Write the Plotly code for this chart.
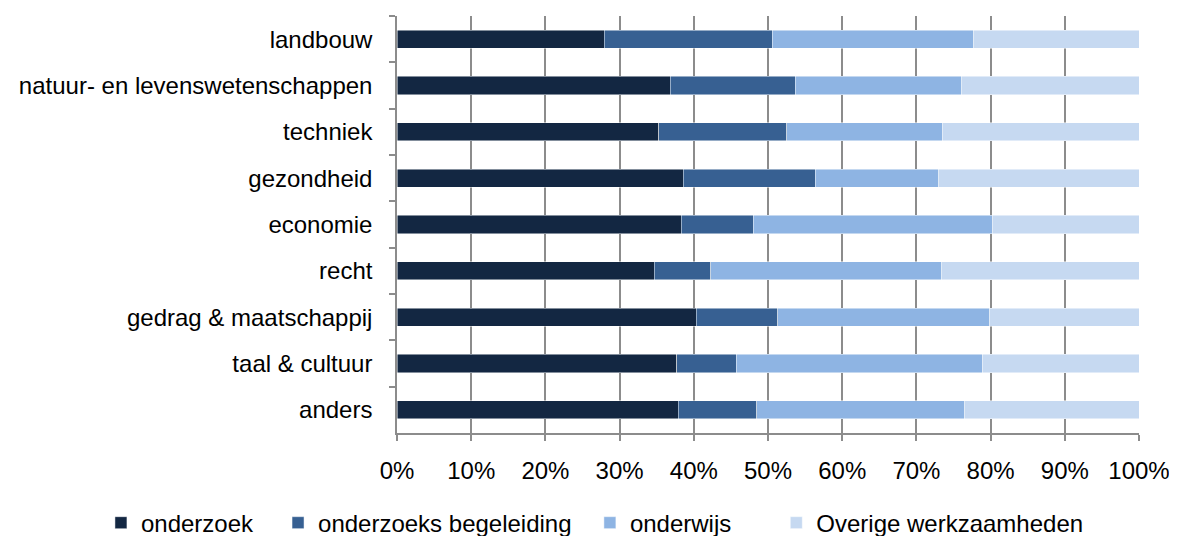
import plotly.graph_objects as go

# Categorieën (van boven naar beneden)
categories = ["landbouw", "natuur- en levenswetenschappen", "techniek", "gezondheid",
              "economie", "recht", "gedrag & maatschappij", "taal & cultuur", "anders"]

# Aandelen per activiteit (%)
onderzoek = [27.9, 36.8, 35.3, 38.6, 38.3, 34.7, 40.3, 37.7, 37.9]
begeleiding = [22.7, 16.9, 17.2, 17.8, 9.7, 7.6, 11.0, 8.0, 10.6]
onderwijs = [27.1, 22.4, 21.0, 16.6, 32.2, 31.1, 28.6, 33.2, 28.0]
overige = [22.3, 23.9, 26.5, 27.0, 19.8, 26.6, 20.1, 21.1, 23.5]

x_ticks = list(range(0, 101, 10))
x_labels = [f"{v}%" for v in x_ticks]

# nbsp achter de namen voor de ruimte tussen legenda-items
nb = "\u00a0"
series = [
    ("onderzoek" + nb * 3, onderzoek, "#132742"),
    ("onderzoeks begeleiding" + nb * 2, begeleiding, "#376092"),
    ("onderwijs" + nb * 6, onderwijs, "#8EB4E3"),
    ("Overige werkzaamheden", overige, "#C6D9F1"),
]

fig = go.Figure()

# Gestapelde horizontale balken
for name, values, color in series:
    fig.add_trace(go.Bar(
        y=categories,
        x=values,
        name=name,
        orientation="h",
        marker=dict(color=color, line=dict(color="rgba(255,255,255,0.6)", width=0.8)),
    ))

# De pagina heeft 8px body-marge, daarom marges 8px kleiner links/boven
fig.update_layout(
    barmode="stack",
    bargap=0.61,
    width=1177,
    height=536,
    margin=dict(l=389, r=46, t=8, b=111, autoexpand=False),
    plot_bgcolor="white",
    paper_bgcolor="white",
    font=dict(family="Liberation Sans", size=24, color="#000000"),
    showlegend=True,
    legend=dict(
        orientation="h",
        x=-0.399, xanchor="left",
        y=-0.216, yanchor="middle",
        font=dict(size=24),
        traceorder="normal",
        bgcolor="rgba(0,0,0,0)",
    ),
    xaxis=dict(
        range=[0, 100],
        tickvals=x_ticks,
        ticktext=x_labels,
        showgrid=True,
        gridcolor="#8C8C8C",
        gridwidth=1.5,
        showline=True,
        linecolor="#8C8C8C",
        linewidth=1.5,
        ticks="outside",
        ticklen=6,
        tickcolor="#8C8C8C",
        tickwidth=1.5,
        ticklabelstandoff=9,
        zeroline=False,
    ),
    yaxis=dict(
        autorange="reversed",
        showline=True,
        linecolor="#8C8C8C",
        linewidth=1.5,
        ticks="outside",
        tickson="boundaries",
        ticklen=6,
        tickcolor="#8C8C8C",
        tickwidth=1.5,
        ticklabelstandoff=18,
        showgrid=False,
    ),
)

fig.write_html("out.html")
